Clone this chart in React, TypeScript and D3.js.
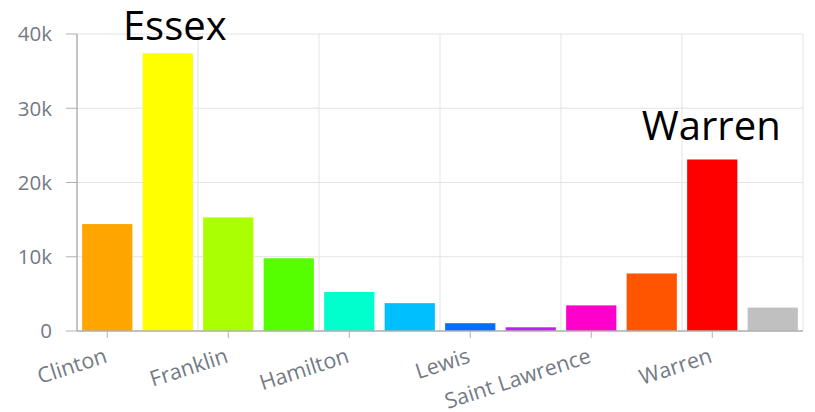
import React from "react";
import * as d3 from "d3";

const categories = ["Clinton","Essex","Franklin","Fulton","Hamilton","Herkimer","Lewis","Oneida","Saint Lawrence","Saratoga","Warren","Washington"];
const values = [14400, 37400, 15300, 9800, 5250, 3750, 1050, 500, 3450, 7750, 23100, 3150];
const colors = ["#FFA500","#FFFF00","#AAFF00","#55FF00","#00FFCC","#00BFFF","#0A6CFF","#BB22EE","#FF00CC","#FF5500","#FF0000","#C0C0C0"];
const yTicks = [0, 10000, 20000, 30000, 40000];
const yTickLabels = ["0","10k","20k","30k","40k"];
const shownLabels = ["Clinton","Franklin","Hamilton","Lewis","Saint Lawrence","Warren"];
const annotations = [
  { cat: "Essex", text: "Essex", dx: 7, gap: 13 },
  { cat: "Warren", text: "Warren", dx: -1, gap: 19 },
];

export default function App() {
  const W = 815, H = 412;
  const left = 77, right = 803, top = 34, bottom = 331;
  const x = d3.scaleBand().domain(categories).range([left, right]).paddingInner(0.17).paddingOuter(0.085);
  const y = d3.scaleLinear().domain([0, 40000]).range([bottom, top]);
  const bandW = (right - left) / categories.length;
  const gridX = d3.range(2, categories.length + 1, 2).map(i => left + i * bandW);
  const grey = "#737a85";
  return (
    <svg width={W} height={H} style={{ position: "absolute", left: 0, top: 0, background: "#fff" }}>
      {yTicks.map(t => (
        <line key={"h" + t} x1={left} x2={right} y1={y(t)} y2={y(t)} stroke="#e3e3e3" strokeWidth={1} />
      ))}
      {gridX.map((gx, i) => (
        <line key={"v" + i} x1={gx} x2={gx} y1={top} y2={bottom} stroke="#e3e3e3" strokeWidth={1} />
      ))}
      {categories.map((c, i) => (
        <rect key={c} x={x(c)} y={y(values[i])} width={x.bandwidth()} height={bottom - y(values[i])} fill={colors[i]} />
      ))}
      <line x1={left} x2={left} y1={top} y2={bottom} stroke="#b0b0b0" strokeWidth={1.5} />
      <line x1={left} x2={right} y1={bottom} y2={bottom} stroke="#b0b0b0" strokeWidth={1.5} />
      {yTicks.map((t, i) => (
        <g key={"yt" + t}>
          <line x1={left - 11} x2={left} y1={y(t)} y2={y(t)} stroke="#b0b0b0" strokeWidth={1} />
          <text x={52} y={y(t)} dy="0.36em" textAnchor="end" fontFamily="Open Sans, sans-serif" fontSize={20.5} fill={grey}>{yTickLabels[i]}</text>
        </g>
      ))}
      {shownLabels.map(c => {
        const cx = (x(c) as number) + x.bandwidth() / 2;
        return (
          <g key={"xt" + c}>
            <line x1={cx} x2={cx} y1={bottom} y2={bottom + 7} stroke="#b0b0b0" strokeWidth={1} />
            <text transform={`translate(${cx + 1},${bottom + 31}) rotate(-18)`} textAnchor="end" fontFamily="Open Sans, sans-serif" fontSize={21.5} fill={grey}>{c}</text>
          </g>
        );
      })}
      {annotations.map(a => {
        const cx = (x(a.cat) as number) + x.bandwidth() / 2;
        const i = categories.indexOf(a.cat);
        return (
          <text key={"a" + a.cat} x={cx + a.dx} y={y(values[i]) - a.gap} textAnchor="middle" fontFamily="Open Sans, sans-serif" fontSize={40} fill="#000">{a.text}</text>
        );
      })}
    </svg>
  );
}
